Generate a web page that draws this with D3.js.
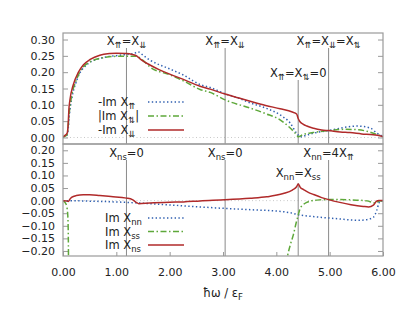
<!DOCTYPE html>
<html>
<head>
<meta charset="utf-8">
<script src="https://cdn.jsdelivr.net/npm/d3@7"></script>
<style>
  body { margin: 0; background: #fff; }
  svg { display: block; font-family: "DejaVu Sans", sans-serif; }
</style>
</head>
<body>
<div id="chart"></div>
<script>
// ---- data ----
// top panel: -Im X_upup, |Im X_updown|, -Im X_downdown
const upupW = [0, 0.05, 0.08, 0.1, 0.12, 0.16, 0.26, 0.44, 0.69, 1.07, 1.32, 1.41, 1.5, 1.63, 2.0, 2.26, 2.57, 2.76, 3.04, 3.3, 3.51, 3.8, 4.07, 4.26, 4.38, 4.45, 4.55, 4.69, 4.98, 5.32, 5.51, 5.76, 5.88, 6.0];
const upupV = [0.002, 0.004, 0.008, 0.03, 0.07, 0.115, 0.176, 0.222, 0.242, 0.252, 0.257, 0.262, 0.252, 0.237, 0.21, 0.191, 0.162, 0.153, 0.134, 0.12, 0.106, 0.09, 0.069, 0.044, 0.013, 0.002, 0.006, 0.013, 0.021, 0.032, 0.035, 0.029, 0.014, 0.003];

const updownW = [0, 0.05, 0.08, 0.1, 0.12, 0.16, 0.26, 0.38, 0.69, 1.07, 1.38, 1.42, 1.5, 1.63, 2.0, 2.3, 2.57, 2.76, 3.04, 3.51, 3.8, 4.07, 4.26, 4.38, 4.41, 4.5, 4.69, 4.98, 5.3, 5.5, 5.7, 5.82, 6.0];
const updownV = [0.002, 0.005, 0.01, 0.04, 0.08, 0.125, 0.18, 0.216, 0.242, 0.249, 0.249, 0.246, 0.236, 0.216, 0.192, 0.17, 0.147, 0.138, 0.115, 0.09, 0.073, 0.054, 0.029, 0.008, 0.002, 0.009, 0.015, 0.021, 0.025, 0.024, 0.019, 0.013, 0.003];

const dndnW = [0, 0.05, 0.08, 0.1, 0.11, 0.13, 0.19, 0.29, 0.38, 0.51, 0.69, 0.88, 1.0, 1.19, 1.3, 1.38, 1.45, 1.63, 1.8, 2.0, 2.3, 2.57, 2.76, 3.04, 3.3, 3.51, 3.8, 4.07, 4.3, 4.38, 4.41, 4.44, 4.5, 4.57, 4.7, 4.85, 4.98, 5.2, 5.38, 5.6, 5.82, 6.0];
const dndnV = [0.002, 0.008, 0.014, 0.05, 0.085, 0.115, 0.16, 0.2, 0.222, 0.239, 0.252, 0.257, 0.258, 0.257, 0.254, 0.25, 0.24, 0.222, 0.208, 0.194, 0.175, 0.157, 0.148, 0.133, 0.121, 0.111, 0.098, 0.088, 0.078, 0.072, 0.058, 0.049, 0.041, 0.035, 0.028, 0.023, 0.021, 0.017, 0.015, 0.011, 0.008, 0.003];

// bottom panel: Im X_nn, Im X_ss, Im X_ns (null = off the chart)
const nnW = [0, 0.1, 0.5, 1.19, 2.0, 2.57, 3.04, 3.51, 4.13, 4.3, 4.41, 4.63, 4.98, 5.2, 5.4, 5.57, 5.72, 5.82, 5.88, 5.92, 5.95, 6.0];
const nnV = [0, 0, -0.002, -0.007, -0.017, -0.025, -0.031, -0.036, -0.044, -0.05, -0.056, -0.062, -0.069, -0.073, -0.077, -0.078, -0.074, -0.066, -0.04, -0.012, 0, 0];

const ssW = [0, 0.04, 0.07, 0.09, 0.1, 0.105, 2.0, 4.15, 4.21, 4.27, 4.32, 4.37, 4.41, 4.44, 4.5, 4.57, 4.65, 4.8, 4.98, 5.2, 5.5, 5.7, 5.8, 5.86, 5.9, 5.94, 6.0];
const ssV = [0, -0.008, -0.023, -0.06, -0.15, -0.3, null, -0.3, -0.22, -0.17, -0.135, -0.09, -0.058, -0.035, -0.017, -0.007, -0.001, 0.003, 0.004, 0.004, 0.002, -0.001, -0.007, -0.01, -0.005, 0, 0];

const nsW = [0, 0.06, 0.1, 0.13, 0.16, 0.25, 0.38, 0.5, 0.69, 0.9, 1.19, 1.3, 1.38, 1.42, 1.63, 2.0, 2.26, 2.57, 3.04, 3.51, 3.82, 4.13, 4.3, 4.38, 4.41, 4.45, 4.51, 4.6, 4.69, 4.85, 4.98, 5.19, 5.4, 5.63, 5.73, 5.82, 5.88, 5.92, 6.0];
const nsV = [0, -0.001, -0.003, 0.006, 0.013, 0.02, 0.023, 0.023, 0.02, 0.016, 0.01, 0.004, -0.008, -0.012, -0.009, -0.006, -0.005, -0.001, 0.003, 0.009, 0.015, 0.028, 0.042, 0.055, 0.066, 0.052, 0.044, 0.033, 0.025, 0.012, 0.004, -0.007, -0.016, -0.023, -0.025, -0.018, -0.002, 0.001, 0.001];

// axes
const xTicks = [0, 1, 2, 3, 4, 5, 6];
const topTicks = [0, 0.05, 0.10, 0.15, 0.20, 0.25, 0.30];
const botTicks = [-0.20, -0.15, -0.10, -0.05, 0, 0.05, 0.10, 0.15, 0.20];

// special frequencies (vertical guide lines) and their labels
const markers = [1.19, 3.04, 4.41, 4.98];
const topLabels = [
  [["X"], ["⇈", 1], ["=X"], ["⇊", 1]],
  [["X"], ["⇈", 1], ["=X"], ["⇊", 1]],
  [["X"], ["⇈", 1], ["=X"], ["⇅", 1], ["=0"]],
  [["X"], ["⇈", 1], ["=X"], ["⇊", 1], ["=X"], ["⇅", 1]]
];
const botLabels = [
  [["X"], ["ns", 1], ["=0"]],
  [["X"], ["ns", 1], ["=0"]],
  [["X"], ["nn", 1], ["=X"], ["ss", 1]],
  [["X"], ["nn", 1], ["=4X"], ["⇈", 1]]
];
const topLegend = [
  [["-Im X"], ["⇈", 1]],
  [["|Im X"], ["⇅", 1], ["|"]],
  [["-Im X"], ["⇊", 1]]
];
const botLegend = [
  [["Im X"], ["nn", 1]],
  [["Im X"], ["ss", 1]],
  [["Im X"], ["ns", 1]]
];

// ---- layout ----
const W = 415, H = 319;
const left = 63, right = 383;
const blue = "#2f5fb0", green = "#5ea83a", red = "#b02a2a", frame = "#9a9a9a";

const svg = d3.select("#chart").append("svg")
  .attr("width", W).attr("height", H);

const x = d3.scaleLinear().domain([0, 6]).range([left, right]);
const yTop = d3.scaleLinear().domain([-0.02, 0.32]).range([144, 33]);
const yBot = d3.scaleLinear().domain([-0.22, 0.225]).range([256, 144]);

function richText(g, parts) {
  parts.forEach(function (p, i) {
    const t = g.append("tspan").text(p[0]);
    if (p[1]) t.attr("font-size", 8.5).attr("dy", 3);
    else if (i > 0 && parts[i - 1][1]) t.attr("dy", -3);
  });
}

const styles = {
  blue: { stroke: blue, dash: "1.4,2.4" },
  green: { stroke: green, dash: "6,2.5,1.5,2.5" },
  red: { stroke: red, dash: null }
};

function panel(id, y, ticks, series, labels, labelRows, legend, legendY) {
  const top = y.range()[1], bottom = y.range()[0];
  const g = svg.append("g");

  g.append("clipPath").attr("id", id)
    .append("rect").attr("x", left).attr("y", top)
    .attr("width", right - left).attr("height", bottom - top);

  // zero line
  g.append("line")
    .attr("x1", left).attr("x2", right)
    .attr("y1", y(0)).attr("y2", y(0))
    .attr("stroke", "#c8c8c8").attr("stroke-dasharray", "1,2.5");

  // y axis ticks (left + mirrored right), labels on the left
  const axL = d3.axisLeft(y).tickValues(ticks).tickSize(-5)
    .tickPadding(8).tickFormat(d3.format(".2f"));
  const gl = g.append("g").attr("transform", "translate(" + left + ",0)").call(axL);
  gl.select(".domain").remove();
  gl.selectAll("line").attr("stroke", frame);
  gl.selectAll("text").attr("font-size", 11).attr("fill", "#222")
    .attr("font-family", "DejaVu Sans");

  const axR = d3.axisRight(y).tickValues(ticks).tickSize(-5).tickFormat("");
  const gr = g.append("g").attr("transform", "translate(" + right + ",0)").call(axR);
  gr.select(".domain").remove();
  gr.selectAll("line").attr("stroke", frame);

  // guide lines + labels
  markers.forEach(function (m, i) {
    const row = labelRows[i];
    g.append("line")
      .attr("x1", x(m)).attr("x2", x(m))
      .attr("y1", row.lineTop).attr("y2", bottom)
      .attr("stroke", "#8a8a8a").attr("stroke-width", 1);
    const t = g.append("text")
      .attr("x", x(m)).attr("y", row.base)
      .attr("text-anchor", "middle")
      .attr("font-size", 11.5).attr("fill", "#222");
    richText(t, labels[i]);
  });

  // curves
  const line = d3.line()
    .defined(function (d) { return d[1] !== null; })
    .x(function (d) { return x(d[0]); })
    .y(function (d) { return y(d[1]); })
    .curve(d3.curveMonotoneX);

  const plot = g.append("g").attr("clip-path", "url(#" + id + ")");
  series.forEach(function (s) {
    const pts = s.w.map(function (w, i) { return [w, s.v[i]]; });
    plot.append("path")
      .attr("d", line(pts))
      .attr("fill", "none")
      .attr("stroke", styles[s.style].stroke)
      .attr("stroke-width", 1.5)
      .attr("stroke-dasharray", styles[s.style].dash);
  });

  // legend
  series.forEach(function (s, i) {
    const ly = legendY[i];
    const t = g.append("text")
      .attr("x", s.legendX).attr("y", ly + 4)
      .attr("font-size", 11.5).attr("fill", "#222");
    richText(t, legend[i]);
    g.append("line")
      .attr("x1", 148).attr("x2", 184)
      .attr("y1", ly).attr("y2", ly)
      .attr("stroke", styles[s.style].stroke)
      .attr("stroke-width", 1.5)
      .attr("stroke-dasharray", styles[s.style].dash);
  });

  // frame
  g.append("rect")
    .attr("x", left).attr("y", top)
    .attr("width", right - left).attr("height", bottom - top)
    .attr("fill", "none").attr("stroke", frame).attr("stroke-width", 1.2);
}

const hi = { base: 45, lineTop: 48 }, lo = { base: 77, lineTop: 80 };
panel("clipTop", yTop, topTicks, [
  { w: upupW, v: upupV, style: "blue", legendX: 98 },
  { w: updownW, v: updownV, style: "green", legendX: 98 },
  { w: dndnW, v: dndnV, style: "red", legendX: 98 }
], topLabels, [hi, hi, lo, hi], topLegend, [102, 116, 130]);

const hiB = { base: 157, lineTop: 160 }, loB = { base: 177, lineTop: 183 };
panel("clipBot", yBot, botTicks, [
  { w: nnW, v: nnV, style: "blue", legendX: 105 },
  { w: ssW, v: ssV, style: "green", legendX: 105 },
  { w: nsW, v: nsV, style: "red", legendX: 105 }
], botLabels, [hiB, hiB, loB, hiB], botLegend, [218, 231.5, 245]);

// x axis (inward ticks at the bottom)
const axX = d3.axisBottom(x).tickValues(xTicks).tickSize(-4)
  .tickPadding(12).tickFormat(d3.format(".2f"));
const gx = svg.append("g").attr("transform", "translate(0,256)").call(axX);
gx.select(".domain").remove();
gx.selectAll("line").attr("stroke", frame);
gx.selectAll("text").attr("font-size", 11).attr("fill", "#222")
  .attr("font-family", "DejaVu Sans");

const title = svg.append("text")
  .attr("x", (left + right) / 2).attr("y", 297)
  .attr("text-anchor", "middle").attr("font-size", 11.5).attr("fill", "#222");
richText(title, [["ħω / ε"], ["F", 1]]);
</script>
</body>
</html>
